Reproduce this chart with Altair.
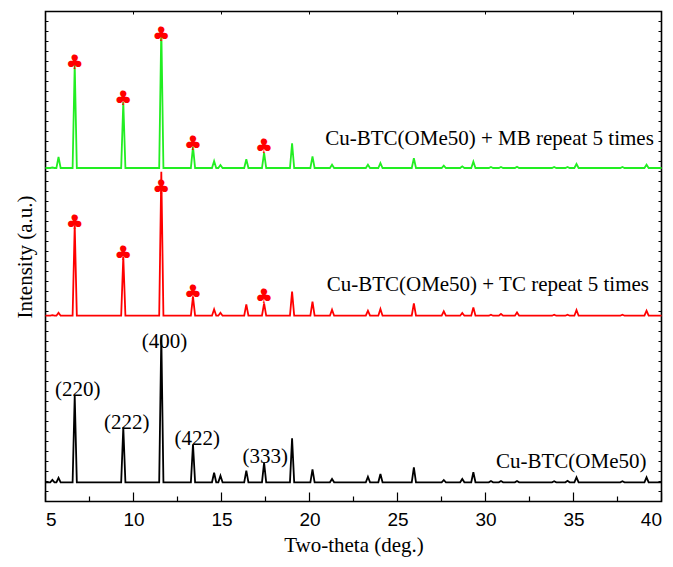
import altair as alt
import pandas as pd

# ---- data ----
peak_pos = [5.39, 5.74, 6.66, 9.42, 11.58, 13.38, 14.58, 14.94, 16.41, 17.42, 19.01, 20.17,
            21.28, 23.32, 24.03, 25.93, 27.63, 28.68, 29.31, 30.31, 30.88, 31.79, 33.90,
            34.66, 35.17, 37.78, 39.15]
h_black = [2.5, 4.5, 87, 55, 147, 38, 9.6, 6.6, 11.6, 19.6, 44, 13, 3.3, 5.6, 8.3, 15,
           2.3, 3.3, 10, 1.3, 1.3, 1.3, 1, 1.5, 5, 1, 5]
h_red = [0.5, 3, 90.5, 59, 144, 19, 6.4, 3, 11.4, 12.4, 24, 14, 6, 5, 6.7, 12.3,
         4.3, 2.7, 8.3, 1, 1.7, 3.3, 1, 1, 5.7, 1, 5]
h_green = [0.5, 11, 104, 66, 140.5, 21.3, 7, 3, 8.7, 15.3, 24.7, 11.7, 3.3, 3.3, 5, 9.7,
           2.3, 1.7, 6.3, 1, 1, 1.3, 1, 1, 4, 1, 3.3]
series_names = ["Cu-BTC(OMe50)", "Cu-BTC(OMe50) + TC repeat 5 times",
                "Cu-BTC(OMe50) + MB repeat 5 times"]
series_offset = [19.2, 185.8, 333.5]
series_colors = ["#000000", "#ff0000", "#22ee22"]

hkl_text = ["(220)", "(222)", "(400)", "(422)", "(333)"]
hkl_x = [6.83, 9.62, 11.76, 13.62, 17.48]
hkl_y = [111.5, 78.5, 159.8, 62.5, 44.2]

label_x = [34.87, 30.13, 30.23]
label_y = [40, 216.5, 362.5]

club_x = [6.66, 9.42, 11.58, 13.38, 17.42]
club_y_red = [278.2, 247.5, 313.2, 208.2, 204.2]
club_y_green = [438.2, 402.2, 466.5, 357.5, 354.8]

major_ticks = [5, 10, 15, 20, 25, 30, 35, 40]
minor_ticks = [7.5, 12.5, 17.5, 22.5, 27.5, 32.5, 37.5]
y_ticks = list(range(10, 490, 10))

HALF = 0.12
rows = []
for name, off, heights in zip(series_names, series_offset, [h_black, h_red, h_green]):
    k = 0
    rows.append({"x": 5.0, "y": off, "s": name, "o": k}); k += 1
    for p, h in zip(peak_pos, heights):
        for xx, yy in [(p - HALF, off), (p, off + h), (p + HALF, off)]:
            rows.append({"x": xx, "y": yy, "s": name, "o": k}); k += 1
    rows.append({"x": 40.0, "y": off, "s": name, "o": k})
df = pd.DataFrame(rows)

xs = alt.Scale(domain=[5, 40], nice=False, zero=False)
ys = alt.Scale(domain=[0, 490], nice=False, zero=False)

lines = alt.Chart(df).mark_line(strokeWidth=1.8).encode(
    x=alt.X("x:Q", scale=xs, axis=alt.Axis(
        values=major_ticks, ticks=False, domain=False, grid=False,
        labelFont="Liberation Sans Narrow, Arial Narrow, Liberation Sans", labelFontSize=19,
        labelColor="black", labelPadding=9, title="Two-theta (deg.)",
        titleFont="Liberation Serif", titleFontSize=21, titleFontWeight="normal",
        titleColor="black", titlePadding=5)),
    y=alt.Y("y:Q", scale=ys, axis=alt.Axis(
        labels=False, ticks=False, domain=False, grid=False,
        title="Intensity (a.u.)", titleFont="Liberation Serif", titleFontSize=21,
        titleFontWeight="normal", titleColor="black", titlePadding=10)),
    color=alt.Color("s:N", scale=alt.Scale(domain=series_names, range=series_colors), legend=None),
    order="o:Q",
)

tick_major = alt.Chart(pd.DataFrame({"x": major_ticks})).mark_rule(color="black", strokeWidth=1.2).encode(
    x=alt.X("x:Q", scale=xs), y=alt.value(490), y2=alt.value(481))
tick_minor = alt.Chart(pd.DataFrame({"x": minor_ticks})).mark_rule(color="black", strokeWidth=1.2).encode(
    x=alt.X("x:Q", scale=xs), y=alt.value(490), y2=alt.value(485))
tick_top = alt.Chart(pd.DataFrame({"x": major_ticks})).mark_rule(color="black", strokeWidth=1).encode(
    x=alt.X("x:Q", scale=xs), y=alt.value(0), y2=alt.value(3))
ytdf = pd.DataFrame({"y": y_ticks})
tick_left = alt.Chart(ytdf).mark_rule(color="black", strokeWidth=1).encode(
    y=alt.Y("y:Q", scale=ys), x=alt.value(0), x2=alt.value(3))
tick_right = alt.Chart(ytdf).mark_rule(color="black", strokeWidth=1).encode(
    y=alt.Y("y:Q", scale=ys), x=alt.value(613), x2=alt.value(616))

hkl = alt.Chart(pd.DataFrame({"x": hkl_x, "y": hkl_y, "t": hkl_text})).mark_text(
    font="Liberation Serif", fontSize=21, color="black", align="center", baseline="middle"
).encode(x=alt.X("x:Q", scale=xs), y=alt.Y("y:Q", scale=ys), text="t:N")

labels = alt.Chart(pd.DataFrame({"x": label_x, "y": label_y, "t": series_names})).mark_text(
    font="Liberation Serif", fontSize=21, color="black", align="center", baseline="middle"
).encode(x=alt.X("x:Q", scale=xs), y=alt.Y("y:Q", scale=ys), text="t:N")

cdf = pd.DataFrame({"x": club_x * 2, "y": club_y_red + club_y_green})
clubs = alt.Chart(cdf).mark_text(
    text="\u2663", font="DejaVu Sans", fontSize=20, color="#ff0000", align="center", baseline="middle"
).encode(x=alt.X("x:Q", scale=xs), y=alt.Y("y:Q", scale=ys))

chart = alt.layer(lines, tick_major, tick_minor, tick_top, tick_left, tick_right,
                  hkl, labels, clubs).properties(
    width=616, height=490,
    autosize=alt.AutoSizeParams(type="none"),
    padding={"left": 37.5, "top": 3.5, "right": 3, "bottom": 57},
    background="white",
).configure_view(stroke="black", strokeWidth=1.6)

chart.save("out.html", embed_options={"renderer": "svg", "actions": False})
